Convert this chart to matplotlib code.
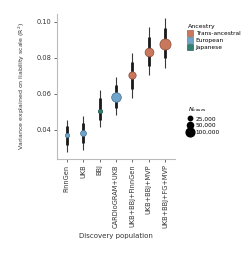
import matplotlib
matplotlib.use("Agg")
import matplotlib.pyplot as plt
from matplotlib.lines import Line2D
import numpy as np

populations = ["FinnGen", "UKB", "BBJ", "CARDIoGRAM+UKB", "UKB+BBJ+FinnGen",
               "UKB+BBJ+MVP", "UKB+BBJ+FG+MVP"]
ancestry = ["European", "European", "Japanese", "European",
            "Trans-ancestral", "Trans-ancestral", "Trans-ancestral"]
r2 = [0.0372, 0.0383, 0.0506, 0.0583, 0.0706, 0.0833, 0.0878]
ci_low = [0.0278, 0.0289, 0.0417, 0.0483, 0.0578, 0.0706, 0.0744]
ci_high = [0.0455, 0.0478, 0.0622, 0.0694, 0.0828, 0.0972, 0.1020]
ncases = [25000, 45000, 25000, 120000, 70000, 100000, 160000]

ancestry_levels = ["Trans-ancestral", "European", "Japanese"]
colors = {"Trans-ancestral": "#c9785d", "European": "#6fa3c8", "Japanese": "#2f7f72"}
edges = {"Trans-ancestral": "#8a4a35", "European": "#3f6f92", "Japanese": "#1d5048"}
size_breaks = [25000, 50000, 100000]
size_labels = ["25,000", "50,000", "100,000"]

def size_of(n):
    return 40.0 * n / 100000.0

fig = plt.figure(figsize=(2.51, 2.58), dpi=100)
ax = fig.add_axes([0.226, 0.384, 0.472, 0.562])

x = np.arange(len(populations))
for i in range(len(populations)):
    lo, hi, m = ci_low[i], ci_high[i], r2[i]
    ax.plot([x[i], x[i]], [lo, hi], color="#3a3a3a", lw=0.8, zorder=1, solid_capstyle="butt")
    ilo = m - 0.6 * (m - lo)
    ihi = m + 0.6 * (hi - m)
    ax.plot([x[i], x[i]], [ilo, ihi], color="#1a1a1a", lw=2.0, zorder=2, solid_capstyle="butt")
    ax.scatter([x[i]], [m], s=size_of(ncases[i]), color=colors[ancestry[i]],
               edgecolor=edges[ancestry[i]], linewidth=0.5, zorder=3)

ax.set_xlim(-0.6, 6.6)
ax.set_ylim(0.0239, 0.1044)
ax.set_yticks([0.04, 0.06, 0.08, 0.10])
ax.set_yticklabels(["0.04", "0.06", "0.08", "0.10"])
ax.set_xticks(x)
ax.set_xticklabels(populations, rotation=90)
ax.tick_params(axis="both", labelsize=4.8, length=2, width=0.5, colors="#333333", pad=2)
for s in ["top", "right"]:
    ax.spines[s].set_visible(False)
for s in ["left", "bottom"]:
    ax.spines[s].set_color("#bbbbbb")
    ax.spines[s].set_linewidth(0.8)
ax.set_xlabel("Discovery population", fontsize=5, color="#333333", labelpad=3)
ax.set_ylabel("Variance explained on liability scale (R$^2$)", fontsize=4.5,
              color="#333333", labelpad=7)

handles1 = [Line2D([], [], marker="s", linestyle="", markersize=4.5,
                   markerfacecolor=colors[a], markeredgecolor=edges[a], markeredgewidth=0.4)
            for a in ancestry_levels]
leg1 = fig.legend(handles1, ancestry_levels, title="Ancestry", loc="upper left",
                  bbox_to_anchor=(0.74, 0.915), frameon=False, fontsize=4.2,
                  title_fontsize=4.5, handlelength=0.8, handletextpad=0.5,
                  labelspacing=0.3, borderaxespad=0)
leg1._legend_box.align = "left"
handles2 = [Line2D([], [], marker="o", linestyle="", color="black",
                   markersize=np.sqrt(size_of(b))) for b in size_breaks]
leg2 = fig.legend(handles2, size_labels, title="$N_{cases}$", loc="upper left",
                  bbox_to_anchor=(0.74, 0.6), frameon=False, fontsize=4.2,
                  title_fontsize=4.5, handlelength=0.8, handletextpad=0.5,
                  labelspacing=0.3, borderaxespad=0)
leg2._legend_box.align = "left"

fig.savefig("out.png", dpi=100)
